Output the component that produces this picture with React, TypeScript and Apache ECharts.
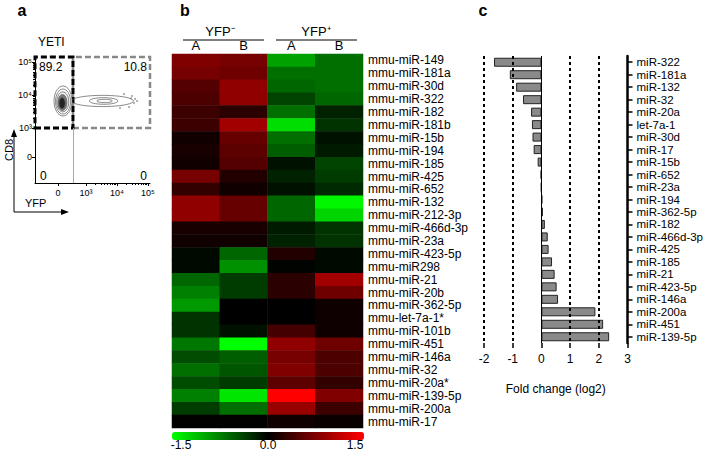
import React, { useEffect, useRef } from "react";
import * as echarts from "echarts";

const FONT = "'Liberation Sans', Arial, Helvetica, sans-serif";

// ---------- Panel a : flow cytometry (logicle units, 3 = 10^3, 4 = 10^4, 5 = 10^5)
const flowXTicks = [2.1, 3, 4, 5];
const flowYTicks = [2.12, 3, 4, 5];
const flowTickLabels = ["0", "10³", "10⁴", "10⁵"];
const flowXRange = [1.355, 5.065];
const flowYRange = [1.33, 5.15];
const gateX = 2.58;
const gateY = 3;
const quadrantLabels = ["89.2", "10.8", "0", "0"];
// contour levels: [centerX, centerY, radiusX, radiusY]
const contourShapes = [
  [3.53, 3.817, 1.0, 0.17],
  [3.57, 3.817, 0.46, 0.1],
  [3.6, 3.817, 0.25, 0.05],
  [2.258, 3.817, 0.29, 0.455],
  [2.258, 3.8, 0.242, 0.379],
  [2.25, 3.79, 0.194, 0.303],
  [2.24, 3.77, 0.145, 0.242],
  [2.23, 3.75, 0.097, 0.167],
];
const contourFills = ["none", "none", "none", "#fff", "#fff", "#eee", "#777", "#222"];
const outlierEvents = [
  [4.484, 3.968], [4.581, 3.877], [4.549, 3.756], [4.388, 3.635],
  [4.646, 3.817], [4.226, 4.029], [4.097, 3.605], [4.45, 3.9],
];

// ---------- Panel b : heatmap
const heatRows = [
  "mmu-miR-149", "mmu-miR-181a", "mmu-miR-30d", "mmu-miR-322", "mmu-miR-182",
  "mmu-miR-181b", "mmu-miR-15b", "mmu-miR-194", "mmu-miR-185", "mmu-miR-425",
  "mmu-miR-652", "mmu-miR-132", "mmu-miR-212-3p", "mmu-miR-466d-3p", "mmu-miR-23a",
  "mmu-miR-423-5p", "mmu-miR298", "mmu-miR-21", "mmu-miR-20b", "mmu-miR-362-5p",
  "mmu-let-7a-1*", "mmu-miR-101b", "mmu-miR-451", "mmu-miR-146a", "mmu-miR-32",
  "mmu-miR-20a*", "mmu-miR-139-5p", "mmu-miR-200a", "mmu-miR-17",
];
const heatColumns = ["A", "B", "A", "B"];
const yfpNegA = [0.75, 0.7, 0.5, 0.45, 0.35, 0.35, 0.1, 0.15, 0.1, 0.7, 0.3, 0.85, 0.85, 0.15, 0.1, -0.05, -0.05, -0.6, -0.75, -0.9, -0.3, -0.3, -0.7, -0.45, -0.65, -0.45, -0.75, -0.35, 0.02];
const yfpNegB = [0.7, 0.65, 0.85, 0.85, 0.25, 0.95, 0.6, 0.55, 0.5, 0.2, 0.1, 0.6, 0.6, 0.15, 0.1, -0.6, -0.85, -0.35, -0.35, 0.0, 0.0, -0.1, -1.5, -0.55, -0.5, -0.35, -1.35, -0.65, 0.02];
const yfpPosA = [-0.95, -0.65, -0.6, -0.4, -0.65, -1.3, -0.65, -0.55, -0.1, -0.2, -0.1, -0.6, -0.6, -0.15, -0.2, 0.2, -0.02, 0.25, 0.25, 0.0, 0.0, 0.4, 0.85, 0.7, 0.75, 0.55, 1.5, 0.9, 0.1];
const yfpPosB = [-0.65, -0.65, -0.65, -0.6, -0.2, -0.3, -0.1, -0.15, -0.4, -0.35, -0.25, -1.45, -1.25, -0.3, -0.3, -0.05, -0.05, 0.95, 0.65, 0.08, 0.08, 0.08, 0.65, 0.45, 0.45, 0.3, 0.75, 0.35, 0.05];
const colorbarTicks = ["-1.5", "0.0", "1.5"];

// ---------- Panel c : fold change bars
const foldCategories = [
  "miR-322", "miR-181a", "miR-132", "miR-32", "miR-20a", "let-7a-1", "miR-30d",
  "miR-17", "miR-15b", "miR-652", "miR-23a", "miR-194", "miR-362-5p", "miR-182",
  "miR-466d-3p", "miR-425", "miR-185", "miR-21", "miR-423-5p", "miR-146a",
  "miR-200a", "miR-451", "miR-139-5p",
];
const foldValues = [-1.65, -1.1, -0.88, -0.64, -0.36, -0.33, -0.31, -0.27, -0.13, -0.02, -0.01, 0.03, 0.05, 0.12, 0.22, 0.25, 0.37, 0.46, 0.53, 0.58, 1.88, 2.15, 2.36];
const foldDashedLines = [-2, -1, 1, 2];

function logMinor(decades: number[]) {
  const out: number[] = [];
  decades.forEach((d) => {
    for (let k = 2; k <= 9; k++) out.push(d + Math.log10(k));
  });
  return out;
}

export default function App() {
  const ref = useRef<HTMLDivElement>(null);
  useEffect(() => {
    if (!ref.current) return;
    const chart = echarts.init(ref.current, null, { renderer: "svg" });

    const heatData: number[][] = [];
    [yfpNegA, yfpNegB, yfpPosA, yfpPosB].forEach((col, ci) =>
      col.forEach((v, ri) => heatData.push([ci, ri, v]))
    );
    const minorX = logMinor([3, 4]);
    const minorY = logMinor([3, 4]);
    const tickFmt = (ticks: number[]) => (v: number) => {
      const i = ticks.findIndex((t) => Math.abs(t - v) < 1e-6);
      return i >= 0 ? flowTickLabels[i] : "";
    };

    const txt = (text: string, x: number, y: number, extra: any = {}) => ({
      type: "text",
      x,
      y,
      silent: true,
      style: {
        text,
        fontFamily: FONT,
        fontSize: 12,
        fill: "#000",
        textAlign: "center",
        textVerticalAlign: "middle",
        ...extra,
      },
    });

    const option: any = {
      animation: false,
      backgroundColor: "#fff",
      textStyle: { fontFamily: FONT },
      grid: [
        { left: 35, top: 57, width: 115, height: 126 },
        { left: 172, top: 54, width: 191, height: 374 },
        { left: 484, top: 56, width: 145, height: 287 },
      ],
      xAxis: [
        {
          gridIndex: 0, type: "value", min: flowXRange[0], max: flowXRange[1], position: "bottom",
          splitLine: { show: false },
          axisLine: { onZero: false, lineStyle: { color: "#000", width: 1 } },
          axisTick: { customValues: flowXTicks, length: 3, lineStyle: { color: "#000" } },
          axisLabel: { customValues: flowXTicks, formatter: tickFmt(flowXTicks), fontSize: 9, color: "#000", margin: 5 },
        },
        {
          gridIndex: 0, type: "value", min: flowXRange[0], max: flowXRange[1], position: "bottom",
          splitLine: { show: false },
          axisLine: { show: false, onZero: false },
          axisTick: { customValues: minorX, length: 2, lineStyle: { color: "#000" } },
          axisLabel: { show: false },
        },
        {
          gridIndex: 1, type: "category", data: heatColumns, position: "top",
          axisLine: { show: false }, axisTick: { show: false }, splitLine: { show: false },
          axisLabel: { fontSize: 13, color: "#000", margin: 2, interval: 0 },
        },
        {
          gridIndex: 2, type: "value", min: -2, max: 3, interval: 1, position: "bottom",
          splitLine: { show: false },
          axisLine: { onZero: false, lineStyle: { color: "#000", width: 2 } },
          axisTick: { show: true, length: 5, lineStyle: { color: "#000", width: 1.5 } },
          axisLabel: { fontSize: 12, color: "#000", margin: 10 },
          name: "Fold change (log2)", nameLocation: "middle", nameGap: 40,
          nameTextStyle: { fontSize: 12, color: "#000" },
        },
      ],
      yAxis: [
        {
          gridIndex: 0, type: "value", min: flowYRange[0], max: flowYRange[1], position: "left",
          splitLine: { show: false },
          axisLine: { onZero: false, lineStyle: { color: "#000", width: 1 } },
          axisTick: { customValues: flowYTicks, length: 3, lineStyle: { color: "#000" } },
          axisLabel: { customValues: flowYTicks, formatter: tickFmt(flowYTicks), fontSize: 9, color: "#000", margin: 3 },
        },
        {
          gridIndex: 0, type: "value", min: flowYRange[0], max: flowYRange[1], position: "left",
          splitLine: { show: false },
          axisLine: { show: false, onZero: false },
          axisTick: { customValues: minorY, length: 2, lineStyle: { color: "#000" } },
          axisLabel: { show: false },
        },
        {
          gridIndex: 1, type: "category", data: heatRows, inverse: true, position: "right",
          axisLine: { show: false }, axisTick: { show: false }, splitLine: { show: false },
          axisLabel: { fontSize: 12, color: "#000", margin: 5, interval: 0 },
        },
        {
          gridIndex: 2, type: "category", data: foldCategories, inverse: true, position: "right",
          splitLine: { show: false },
          axisLine: { show: true, onZero: false, lineStyle: { color: "#000", width: 2.5 } },
          axisTick: { show: true, alignWithLabel: true, interval: 0, inside: false, length: 5, lineStyle: { color: "#000", width: 1.5 } },
          axisLabel: { fontSize: 11.5, color: "#000", margin: 9, interval: 0 },
        },
      ],
      visualMap: {
        type: "continuous",
        min: -1.5,
        max: 1.5,
        seriesIndex: 2,
        orient: "horizontal",
        left: 172,
        top: 432,
        itemWidth: 8,
        itemHeight: 192,
        padding: 0,
        calculable: false,
        hoverLink: false,
        inRange: { color: ["#00ff00", "#000000", "#ff0000"] },
      },
      series: [
        {
          type: "custom",
          xAxisIndex: 0,
          yAxisIndex: 0,
          silent: true,
          clip: true,
          data: contourShapes,
          renderItem: (params: any, api: any) => {
            const c = api.coord([api.value(0), api.value(1)]);
            const s = api.size([api.value(2), api.value(3)]);
            const fill = contourFills[params.dataIndex];
            return {
              type: "ellipse",
              shape: { cx: c[0], cy: c[1], rx: s[0], ry: s[1] },
              style: { fill: fill === "none" ? "none" : fill, stroke: "#555", lineWidth: 0.7 },
            };
          },
        },
        {
          type: "scatter",
          xAxisIndex: 0,
          yAxisIndex: 0,
          silent: true,
          symbolSize: 1.6,
          itemStyle: { color: "#666" },
          data: outlierEvents,
          markLine: {
            silent: true,
            symbol: ["none", "none"],
            label: { show: false },
            lineStyle: { color: "#aaa", width: 1, type: "solid" },
            data: [[{ coord: [gateX, flowYRange[0]] }, { coord: [gateX, gateY] }]],
          },
          markArea: {
            silent: true,
            label: { show: false },
            data: [
              [
                {
                  coord: [gateX, gateY],
                  itemStyle: { color: "rgba(0,0,0,0)", borderColor: "#888", borderWidth: 2.5, borderType: [6, 3] },
                },
                { coord: [flowXRange[1], flowYRange[1]] },
              ],
              [
                {
                  coord: [flowXRange[0], gateY],
                  itemStyle: { color: "rgba(0,0,0,0)", borderColor: "#000", borderWidth: 3, borderType: [6, 3] },
                },
                { coord: [gateX, flowYRange[1]] },
              ],
            ],
          },
        },
        {
          type: "heatmap",
          xAxisIndex: 2,
          yAxisIndex: 2,
          silent: true,
          data: heatData,
        },
        {
          type: "bar",
          xAxisIndex: 3,
          yAxisIndex: 3,
          silent: true,
          barWidth: 9,
          data: foldValues,
          itemStyle: { color: "#8a8a8a", borderColor: "#222", borderWidth: 1 },
          markLine: {
            silent: true,
            symbol: ["none", "none"],
            label: { show: false },
            data: [
              ...foldDashedLines.map((v) => ({ xAxis: v, lineStyle: { color: "#000", width: 2, type: [3, 3] } })),
              { xAxis: 0, lineStyle: { color: "#000", width: 1, type: "solid" } },
            ],
          },
        },
      ],
      graphic: [
        txt("a", 22, 10, { fontSize: 16, fontWeight: "bold" }),
        txt("b", 185, 10, { fontSize: 16, fontWeight: "bold" }),
        txt("c", 483, 10, { fontSize: 16, fontWeight: "bold" }),
        txt("YETI", 38, 42, { textAlign: "left", fontSize: 12 }),
        txt(quadrantLabels[0], 39, 67, { textAlign: "left", fontSize: 12 }),
        txt(quadrantLabels[1], 147, 67, { textAlign: "right", fontSize: 12 }),
        txt(quadrantLabels[2], 40, 176, { textAlign: "left", fontSize: 12 }),
        txt(quadrantLabels[3], 147, 176, { textAlign: "right", fontSize: 12 }),
        { ...txt("CD8", 9, 150, { fontSize: 11 }), rotation: Math.PI / 2 },
        txt("YFP", 25, 203, { textAlign: "left", fontSize: 11 }),
        { type: "line", silent: true, shape: { x1: 14, y1: 136, x2: 14, y2: 212 }, style: { stroke: "#000", lineWidth: 1 } },
        { type: "polygon", silent: true, shape: { points: [[14, 129], [11, 137], [17, 137]] }, style: { fill: "#000" } },
        { type: "line", silent: true, shape: { x1: 14, y1: 212, x2: 62, y2: 212 }, style: { stroke: "#000", lineWidth: 1 } },
        { type: "polygon", silent: true, shape: { points: [[69, 212], [61, 209], [61, 215]] }, style: { fill: "#000" } },
        txt("YFP⁻", 220, 31, { fontSize: 13 }),
        txt("YFP⁺", 316, 31, { fontSize: 13 }),
        { type: "line", silent: true, shape: { x1: 183, y1: 40, x2: 264, y2: 40 }, style: { stroke: "#000", lineWidth: 1 } },
        { type: "line", silent: true, shape: { x1: 276, y1: 40, x2: 357, y2: 40 }, style: { stroke: "#000", lineWidth: 1 } },
        txt(colorbarTicks[0], 181, 445, { fontSize: 12 }),
        txt(colorbarTicks[1], 268, 445, { fontSize: 12 }),
        txt(colorbarTicks[2], 355, 445, { fontSize: 12 }),
      ],
    };

    chart.setOption(option);
    return () => chart.dispose();
  }, []);

  return (
    <div
      ref={ref}
      style={{ position: "absolute", left: 0, top: 0, width: 706, height: 452, background: "#fff" }}
    />
  );
}
